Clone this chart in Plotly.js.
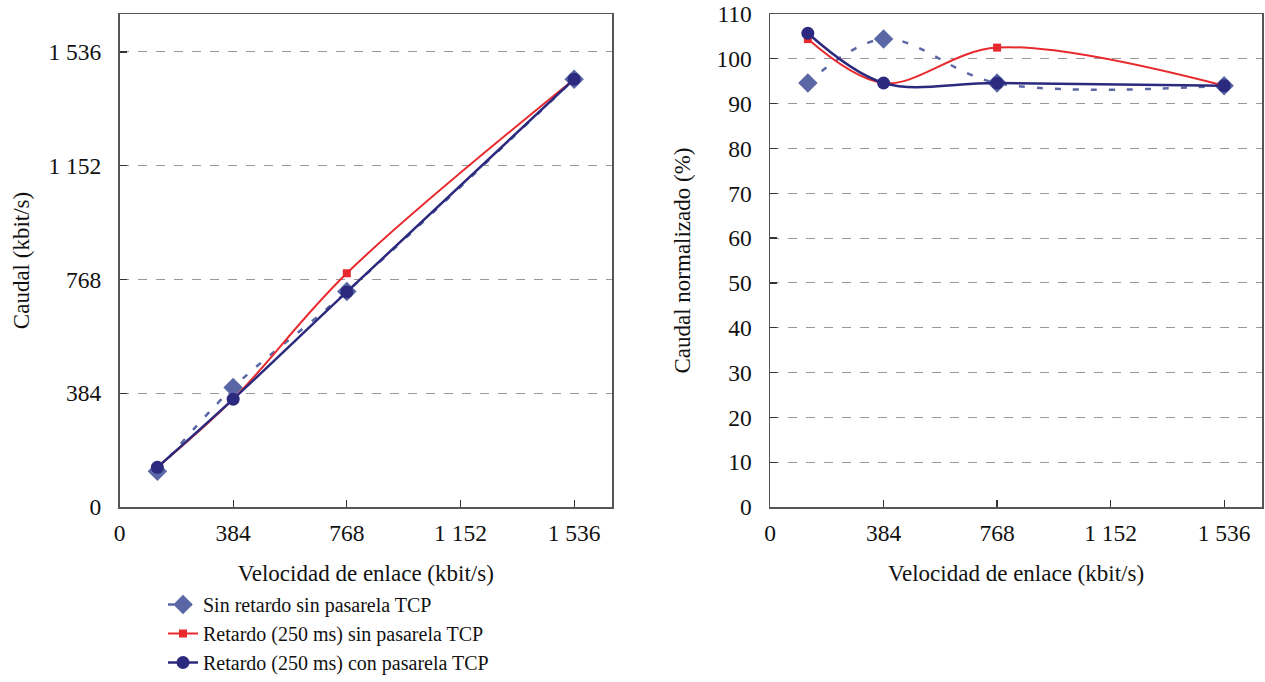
<!DOCTYPE html>
<html>
<head>
<meta charset="utf-8">
<script src="https://cdn.plot.ly/plotly-3.0.1.min.js"></script>
<style>
  html, body { margin: 0; padding: 0; background: #fff; }
  #chart { width: 1265px; height: 682px; }
</style>
</head>
<body>
<div id="chart"></div>
<script>
// Link speeds (kbit/s) at which the throughput was measured
const linkSpeed = [128, 384, 768, 1536];

// Throughput (kbit/s)
const thrNoDelayNoGw = [121, 403, 727, 1444];
const thrDelayNoGw   = [134, 364, 789, 1444];
const thrDelayGw     = [134, 364, 726, 1444];

// Normalised throughput (%)
const normNoDelayNoGw = [94.6, 104.4, 94.6, 94.0];
const normDelayNoGw   = [104.4, 94.6, 102.5, 94.0];
const normDelayGw     = [105.7, 94.6, 94.6, 94.0];

// Series names
const seriesNames = [
  'Sin retardo sin pasarela TCP',
  'Retardo (250 ms) sin pasarela TCP',
  'Retardo (250 ms) con pasarela TCP'
];

// Tick labels
const kbitTickVals = [0, 384, 768, 1152, 1536];
const kbitTickText = ['0', '384', '768', '1 152', '1 536'];
const pctTickVals  = [0, 10, 20, 30, 40, 50, 60, 70, 80, 90, 100, 110];
const pctTickText  = ['0', '10', '20', '30', '40', '50', '60', '70', '80', '90', '100', '110'];

// Axis titles
const xTitle  = 'Velocidad de enlace (kbit/s)';
const yTitleL = 'Caudal (kbit/s)';
const yTitleR = 'Caudal normalizado (%)';

const FONT = 'Liberation Serif';
const C_DASH = '#5b67a5';
const C_RED  = '#e8292e';
const C_NAVY = '#2c2a7e';

function styleFor(i) {
  if (i === 0) return {
    line: { color: C_DASH, width: 2.5, dash: '6px,12px', shape: 'spline', smoothing: 1 },
    marker: { symbol: 'diamond', size: 15, color: C_DASH }
  };
  if (i === 1) return {
    line: { color: C_RED, width: 2, shape: 'spline', smoothing: 1 },
    marker: { symbol: 'square', size: 8, color: C_RED }
  };
  return {
    line: { color: C_NAVY, width: 2.5, shape: 'spline', smoothing: 1 },
    marker: { symbol: 'circle', size: 13, color: C_NAVY }
  };
}

const leftSeries  = [thrNoDelayNoGw, thrDelayNoGw, thrDelayGw];
const rightSeries = [normNoDelayNoGw, normDelayNoGw, normDelayGw];

const traces = [];
leftSeries.forEach((ys, i) => {
  const s = styleFor(i);
  traces.push({
    x: linkSpeed, y: ys, xaxis: 'x', yaxis: 'y',
    type: 'scatter', mode: 'lines+markers',
    name: seriesNames[i], legendgroup: 'g' + i, showlegend: true,
    line: s.line, marker: s.marker
  });
});
rightSeries.forEach((ys, i) => {
  const s = styleFor(i);
  traces.push({
    x: linkSpeed, y: ys, xaxis: 'x2', yaxis: 'y2',
    type: 'scatter', mode: 'lines+markers',
    name: seriesNames[i], legendgroup: 'g' + i, showlegend: false,
    line: s.line, marker: s.marker
  });
});

const W = 1265, H = 682;
const yDom = [(H - 507) / H, (H - 14) / H];
const titleFont = { family: FONT, size: 23, color: '#111' };

const axisCommon = {
  showline: true, mirror: true, linecolor: '#555', linewidth: 1.5,
  ticks: 'inside', ticklen: 7, tickcolor: '#333', tickwidth: 1.2,
  zeroline: false, automargin: false,
  tickfont: { family: FONT, size: 23.5, color: '#111' }
};

const layout = {
  width: W, height: H, autosize: false,
  margin: { l: 0, r: 0, t: 0, b: 0 },
  paper_bgcolor: '#fff', plot_bgcolor: '#fff',
  font: { family: FONT, color: '#111' },
  showlegend: true,
  legend: {
    x: 163 / W, y: 0, xanchor: 'left', yanchor: 'bottom',
    font: { family: FONT, size: 20, color: '#111' },
    tracegroupgap: 0, bgcolor: 'rgba(0,0,0,0)'
  },
  xaxis: Object.assign({}, axisCommon, {
    domain: [119.5 / W, 612 / W], range: [0, 1664], anchor: 'y',
    tickvals: kbitTickVals, ticktext: kbitTickText, showgrid: false,
    ticklabelstandoff: 4,
    title: { text: xTitle, font: titleFont, standoff: 20 }
  }),
  yaxis: Object.assign({}, axisCommon, {
    domain: yDom, range: [0, 1664], anchor: 'x',
    tickvals: kbitTickVals, ticktext: kbitTickText,
    showgrid: true, gridcolor: '#9a9a9a', griddash: 'dash', gridwidth: 1,
    ticklabelstandoff: 12,
    title: { text: yTitleL, font: titleFont, standoff: 12 }
  }),
  xaxis2: Object.assign({}, axisCommon, {
    domain: [770 / W, 1262 / W], range: [0, 1664], anchor: 'y2',
    tickvals: kbitTickVals, ticktext: kbitTickText, showgrid: false,
    ticklabelstandoff: 4,
    title: { text: xTitle, font: titleFont, standoff: 20 }
  }),
  yaxis2: Object.assign({}, axisCommon, {
    domain: yDom, range: [0, 110], anchor: 'x2',
    tickvals: pctTickVals, ticktext: pctTickText,
    showgrid: true, gridcolor: '#9a9a9a', griddash: 'dash', gridwidth: 1,
    ticklabelstandoff: 12,
    title: { text: yTitleR, font: titleFont, standoff: 19 }
  })
};

Plotly.newPlot('chart', traces, layout, { displayModeBar: false, staticPlot: true });
</script>
</body>
</html>
